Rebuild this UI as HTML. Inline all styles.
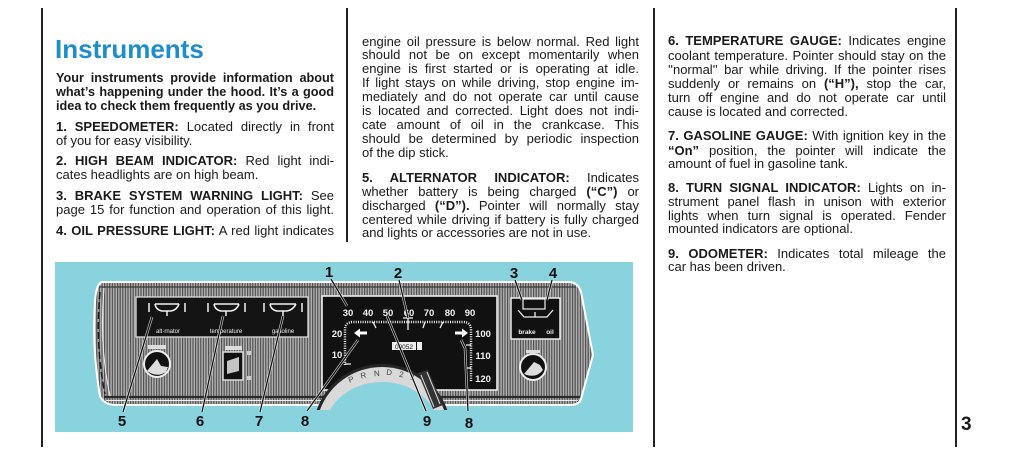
<!DOCTYPE html>
<html><head><meta charset="utf-8">
<style>
html,body{margin:0;padding:0;background:#fff;width:1024px;height:456px;overflow:hidden;}
body{position:relative;font-family:"Liberation Sans",Arial,sans-serif;color:#1a1a1a;}
.v{position:absolute;width:1.6px;background:#222;}
.l{position:absolute;font-size:13px;line-height:14px;height:14px;text-align:justify;text-align-last:justify;overflow:visible;}
.e{text-align-last:left;}
.s{font-size:12.7px;}
.c1{left:56px;width:278px;}
.c2{left:362px;width:277px;}
.c3{left:668px;width:278px;}
b{font-weight:bold;}
.t{position:absolute;left:55px;top:36px;font-size:26px;line-height:26px;font-weight:bold;color:#1d8dcc;}
.pn{position:absolute;left:961px;top:414px;font-size:19px;font-weight:bold;line-height:22px;}
svg{display:block;}
</style></head><body>
<div class="v" style="left:41px;top:8px;height:439px"></div>
<div class="v" style="left:346px;top:8px;height:234px"></div>
<div class="v" style="left:653px;top:8px;height:439px"></div>
<div class="v" style="left:955px;top:8px;height:439px"></div>

<div class="t">Instruments</div>

<div class="l c1 s" style="top:71px"><b>Your instruments provide information about</b></div>
<div class="l c1 s" style="top:84.5px"><b>what’s happening under the hood. It’s a good</b></div>
<div class="l c1 e s" style="top:99px"><b>idea to check them frequently as you drive.</b></div>
<div class="l c1" style="top:120px"><b>1. SPEEDOMETER:</b> Located directly in front</div>
<div class="l c1 e" style="top:134px">of you for easy visibility.</div>
<div class="l c1" style="top:154px"><b>2. HIGH BEAM INDICATOR:</b> Red light indi-</div>
<div class="l c1 e" style="top:168px">cates headlights are on high beam.</div>
<div class="l c1" style="top:189px"><b>3. BRAKE SYSTEM WARNING LIGHT:</b> See</div>
<div class="l c1" style="top:203px">page 15 for function and operation of this light.</div>
<div class="l c1" style="top:224px"><b>4. OIL PRESSURE LIGHT:</b> A red light indicates</div>

<div class="l c2" style="top:35px">engine oil pressure is below normal. Red light</div>
<div class="l c2" style="top:48px">should not be on except momentarily when</div>
<div class="l c2" style="top:62px">engine is first started or is operating at idle.</div>
<div class="l c2" style="top:76px">If light stays on while driving, stop engine im-</div>
<div class="l c2" style="top:90px">mediately and do not operate car until cause</div>
<div class="l c2" style="top:104px">is located and corrected. Light does not indi-</div>
<div class="l c2" style="top:118px">cate amount of oil in the crankcase. This</div>
<div class="l c2" style="top:132px">should be determined by periodic inspection</div>
<div class="l c2 e" style="top:146px">of the dip stick.</div>
<div class="l c2" style="top:171px"><b>5. ALTERNATOR INDICATOR:</b> Indicates</div>
<div class="l c2" style="top:185px">whether battery is being charged <b>(“C”)</b> or</div>
<div class="l c2" style="top:199px">discharged <b>(“D”).</b> Pointer will normally stay</div>
<div class="l c2" style="top:213px">centered while driving if battery is fully charged</div>
<div class="l c2 e" style="top:226px">and lights or accessories are not in use.</div>

<div class="l c3" style="top:34px"><b>6. TEMPERATURE GAUGE:</b> Indicates engine</div>
<div class="l c3" style="top:49px">coolant temperature. Pointer should stay on the</div>
<div class="l c3" style="top:63px">''normal'' bar while driving. If the pointer rises</div>
<div class="l c3" style="top:77px">suddenly or remains on <b>(“H”),</b> stop the car,</div>
<div class="l c3" style="top:91px">turn off engine and do not operate car until</div>
<div class="l c3 e" style="top:105px">cause is located and corrected.</div>
<div class="l c3" style="top:129px"><b>7. GASOLINE GAUGE:</b> With ignition key in the</div>
<div class="l c3" style="top:144px"><b>“On”</b> position, the pointer will indicate the</div>
<div class="l c3 e" style="top:157px">amount of fuel in gasoline tank.</div>
<div class="l c3" style="top:181px"><b>8. TURN SIGNAL INDICATOR:</b> Lights on in-</div>
<div class="l c3" style="top:195px">strument panel flash in unison with exterior</div>
<div class="l c3" style="top:209px">lights when turn signal is operated. Fender</div>
<div class="l c3 e" style="top:222px">mounted indicators are optional.</div>
<div class="l c3" style="top:247px"><b>9. ODOMETER:</b> Indicates total mileage the</div>
<div class="l c3 e" style="top:260px">car has been driven.</div>

<div class="pn">3</div>

<svg width="640" height="440" viewBox="0 0 640 440" style="position:absolute;left:0;top:0" xmlns="http://www.w3.org/2000/svg">
<defs>
<pattern id="st" width="2.6" height="10" patternUnits="userSpaceOnUse"><rect width="2.6" height="10" fill="#b0b0b0"/><rect width="1.15" height="10" fill="#4e4e4e"/></pattern>
</defs>
<rect x="55" y="262" width="578" height="170" fill="#89d3df"/>
<path d="M102,282 L568,282 Q578,282 581,292 L593,355 L581,399 Q579,405 570,405 L116,405 Q104,405 100,396 Q92,350 95,302 Q96,284 102,282 Z" fill="url(#st)" stroke="#fff" stroke-width="2"/>
<path d="M99,287 L576,287" stroke="#3a3a3a" stroke-width="1.2"/>
<path d="M104,397 L580,397" stroke="#2a2a2a" stroke-width="2.2"/>
<path d="M106,400.5 L578,400.5" stroke="#eee" stroke-width="1"/>
<path d="M100,292 Q95,345 105,394" stroke="#1a1a1a" stroke-width="1.5" fill="none" stroke-dasharray="7 3"/>
<path d="M104,288 Q99,345 110,396" stroke="#eee" stroke-width="1" fill="none"/>

<rect x="136" y="297" width="172" height="40" fill="#141414" stroke="#ddd" stroke-width="1.3"/>
<g stroke="#f2f2f2" stroke-width="1.5" fill="none">
<path d="M149,303 L149,312 M185,303 L185,312 M155,304 L179,304 M155,304 Q156,310 162,311 L171,311 Q177,310 179,304 M167,311 L167,316"/>
<path d="M208,303 L208,312 M245,303 L245,312 M214,304 L239,304 M214,304 Q215,310 221,311 L231,311 Q237,310 239,304 M226,311 L226,316"/>
<path d="M264,303 L264,312 M302,303 L302,312 M270,304 L296,304 M270,304 Q271,310 277,311 L287,311 Q293,310 296,304 M283,311 L283,316"/>
</g>
<g fill="#eee" font-size="6" font-family="Liberation Sans, sans-serif" text-anchor="middle">
<text x="168" y="333">alt·rnator</text>
<text x="226" y="333">temperature</text>
<text x="283" y="333">gasoline</text>
</g>

<rect x="148" y="345" width="18" height="4" fill="#ddd"/>
<circle cx="157" cy="364" r="13" fill="#111" stroke="#eee" stroke-width="2"/>
<path d="M147,371 L157,359 L161,366 L168,367 L166,372 Q157,378 147,371 Z" fill="#ddd"/>

<rect x="225" y="346" width="17" height="4" fill="#ddd"/>
<rect x="223" y="352" width="20" height="28" fill="#111" stroke="#ddd" stroke-width="1.5"/>
<polygon points="227,361 239,357 239,371 227,374" fill="#c4c4c4"/>
<rect x="247" y="351" width="4" height="4" fill="#ccc"/>
<rect x="247" y="376" width="4" height="4" fill="#ccc"/>

<rect x="322" y="296" width="175" height="94" fill="#111" stroke="#eee" stroke-width="1.6"/>
<g fill="#f4f4f4" font-size="9.5" font-weight="bold" font-family="Liberation Sans Narrow, Liberation Sans, sans-serif" text-anchor="middle">
<text x="348" y="316">30</text><text x="368" y="316">40</text><text x="388" y="316">50</text><text x="409" y="316">60</text>
<text x="429" y="316">70</text><text x="450" y="316">80</text><text x="470" y="316">90</text>
<text x="337" y="337">20</text><text x="337" y="358">10</text>
<text x="483" y="337">100</text><text x="483" y="359">110</text><text x="483" y="382">120</text>
</g>
<path d="M345,365 L345,330 Q345,322 353,322 L463,322 Q471,322 471,330 L471,382" stroke="#f0f0f0" stroke-width="2.5" fill="none" stroke-dasharray="1 1.3"/>
<g stroke="#f0f0f0" stroke-width="1.3">
<path d="M373,322 L376,328 M390,322 L392,328 M408,316 L408,330 M403,318 L413,318 M425,322 L423,328 M443,322 L440,328 M345,364 L351,364 M471,345 L466,345 M471,368 L466,368"/>
</g>
<path d="M354,333 L360,328.5 L360,331.5 L367,331.5 L367,334.5 L360,334.5 L360,337.5 Z" fill="#fff"/>
<path d="M468,333 L462,328.5 L462,331.5 L455,331.5 L455,334.5 L462,334.5 L462,337.5 Z" fill="#fff"/>
<rect x="392" y="342" width="24" height="8" fill="#eee"/>
<rect x="417" y="342" width="5" height="8" fill="#eee"/>
<text x="404" y="349" font-size="6.5" fill="#111" text-anchor="middle" font-family="Liberation Sans, sans-serif">00052</text>

<path d="M316.7,410 A69,68 0 0 1 447.3,410 Z" fill="#262626"/>
<path d="M319.9,410 A66,65 0 0 1 444.1,410 Z" fill="#d9d9d9"/>
<path d="M329.9,410 A58,50 0 0 1 434.1,410 Z" fill="#89d3df"/>
<polygon points="418,373 428,370 443,405 433,409" fill="#333"/>
<path d="M421,375 L434,407 M427,372 L440,404" stroke="#ddd" stroke-width="1"/>
<g fill="#444" font-size="8" font-family="Liberation Sans, sans-serif" text-anchor="middle">
<text x="352" y="382" transform="rotate(-20 352 382)">P</text>
<text x="364" y="378" transform="rotate(-12 364 378)">R</text>
<text x="377" y="376" transform="rotate(-4 377 376)">N</text>
<text x="389" y="375" transform="rotate(3 389 375)">D</text>
<text x="401" y="377" transform="rotate(10 401 377)">2</text>
<text x="412" y="380" transform="rotate(18 412 380)">1</text>
</g>

<rect x="511" y="298" width="49" height="41" fill="#111" stroke="#eee" stroke-width="1.5"/>
<rect x="523" y="299" width="22" height="10" fill="#111" stroke="#eee" stroke-width="1.2"/>
<path d="M518,310 L524,317 L547,317 L553,310 M535,317 L535,312" stroke="#eee" stroke-width="1.3" fill="none"/>
<g fill="#eee" font-size="6.5" font-weight="bold" font-family="Liberation Sans, sans-serif" text-anchor="middle">
<text x="527" y="334">brake</text><text x="550" y="334">oil</text>
</g>

<rect x="526" y="350" width="14" height="3" fill="#ddd"/>
<circle cx="533" cy="367" r="13" fill="#111" stroke="#eee" stroke-width="2"/>
<path d="M524,374 L534,362 L540,365 L543,370 Q536,379 524,374 Z" fill="#ddd"/>

<g stroke="#fff" stroke-width="2.6" fill="none" opacity="0.8">
<path d="M331,279 L347,306 M399,280 L408,318 M515,280 L522,300 M552,280 L547,300 M123,412 L152,317 M202,412 L223,316 M260,412 L283,316 M307,411 L358,340 M426,411 L387,316 M468,411 L465,348 L461,340"/>
</g>
<g stroke="#111" stroke-width="1.3" fill="none">
<path d="M331,279 L347,306 M399,280 L408,318 M515,280 L522,300 M552,280 L547,300 M123,412 L152,317 M202,412 L223,316 M260,412 L283,316 M307,411 L358,340 M426,411 L387,316 M468,411 L465,348 L461,340"/>
</g>

<g fill="#111" font-size="15" font-weight="bold" font-family="Liberation Sans, sans-serif" text-anchor="middle">
<text x="329" y="277">1</text>
<text x="398" y="278">2</text>
<text x="514" y="278">3</text>
<text x="553" y="278">4</text>
<text x="122" y="426">5</text>
<text x="200" y="426">6</text>
<text x="259" y="426">7</text>
<text x="305" y="426">8</text>
<text x="427" y="426">9</text>
<text x="469" y="428">8</text>
</g>
</svg>
</body></html>
